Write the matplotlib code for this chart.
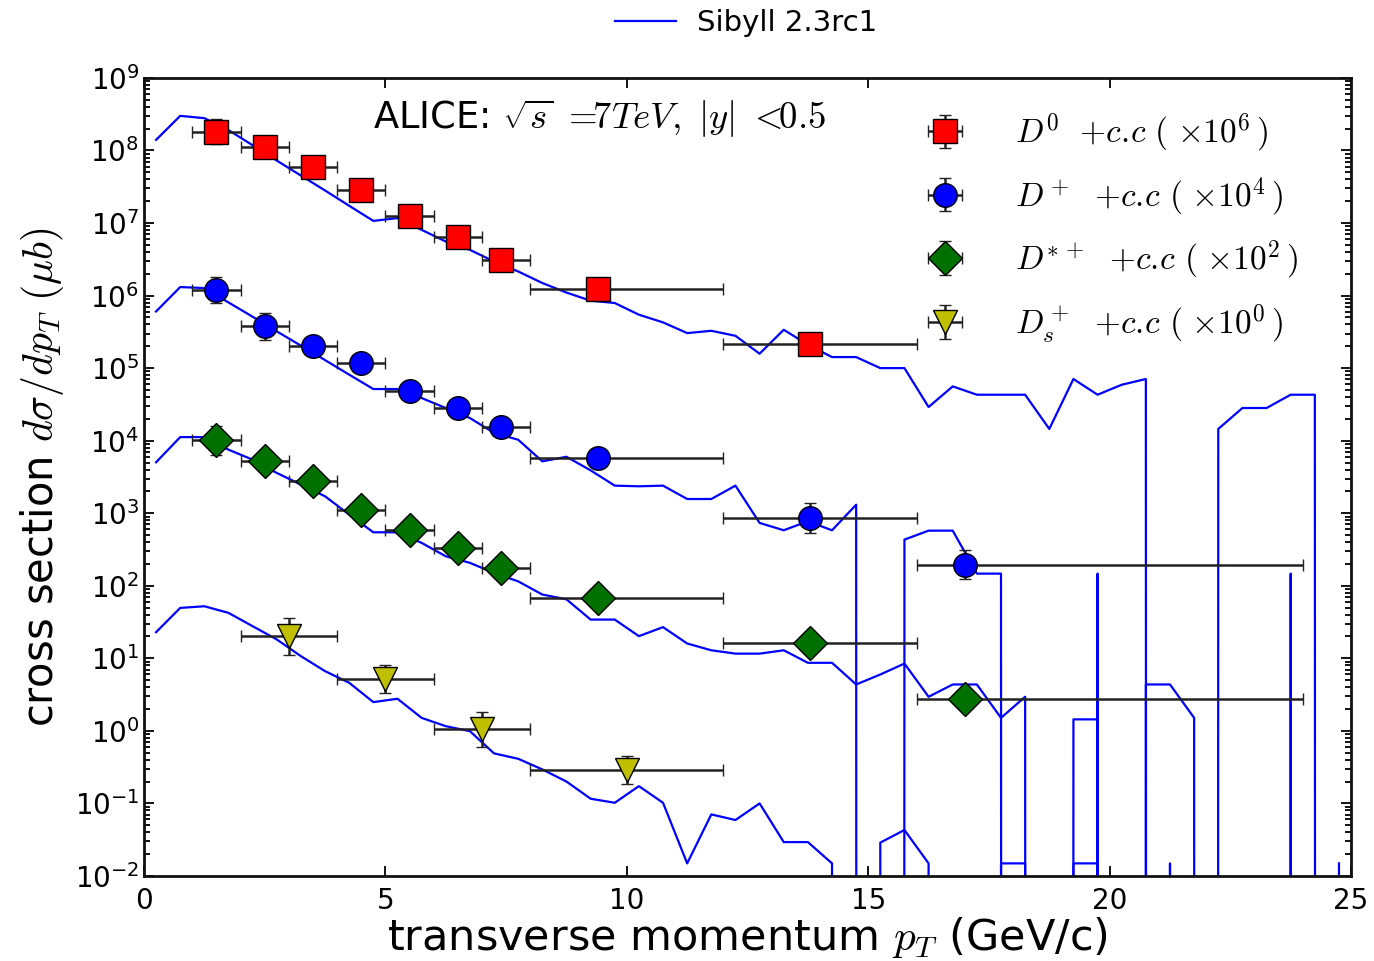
import numpy as np
import matplotlib
matplotlib.use("Agg")
import matplotlib.pyplot as plt
from matplotlib.lines import Line2D
from matplotlib.ticker import LogLocator

# Sibyll 2.3rc1 prediction in 0.5 GeV/c bins (unscaled, mub)
pt_model = np.arange(0.25, 25.0, 0.5)

sib_d0 = [140, 300, 279, 191, 118, 72.6, 45.1, 28.1, 17.3, 10.7,
          11.7, 8.05, 5.56, 4.27, 2.95, 2.15, 1.49, 1.10, 0.85, 0.79,
          0.545, 0.427, 0.304, 0.327, 0.279, 0.158, 0.338, 0.21, 0.142, 0.142,
          0.1, 0.1, 0.0291, 0.056, 0.043, 0.043, 0.043, 0.0145, 0.0708, 0.043,
          0.059, 0.0708, 0, 0, 0.0145, 0.0282, 0.0282, 0.043, 0.043, 0]
sib_dplus = [60.4, 131, 127, 80.4, 51.1, 32.1, 20.4, 12.9, 8.13, 5.15,
             5.15, 3.87, 2.82, 2.05, 1.28, 1.03, 0.519, 0.6, 0.39, 0.24,
             0.235, 0.24, 0.157, 0.157, 0.24, 0.0735, 0.0582, 0.0774, 0.0582, 0.131,
             0, 0.0433, 0.0575, 0.0575, 0.0147, 0.0147, 0, 0, 0, 0.0147,
             0, 0, 0, 0, 0, 0, 0, 0.0147, 0, 0]
sib_dstar = [50.4, 112, 112, 75.2, 54.7, 35.9, 24.8, 17.1, 9.57, 5.46,
             5.46, 3.9, 2.55, 2.07, 1.5, 1.15, 0.757, 0.65, 0.342, 0.342,
             0.202, 0.269, 0.16, 0.129, 0.116, 0.116, 0.129, 0.0867, 0.0867, 0.0436,
             0.0598, 0.0847, 0.0295, 0.0436, 0.0436, 0.0151, 0.0295, 0, 0.0144, 0.0144,
             0, 0.0436, 0.0436, 0.0151, 0, 0, 0, 0, 0, 0]
sib_ds = [22.9, 49.5, 52.2, 42.3, 27.7, 18.2, 10.7, 6.65, 4.6, 2.49,
          2.77, 1.51, 1.16, 0.99, 0.489, 0.412, 0.294, 0.2, 0.116, 0.102,
          0.173, 0.102, 0.0149, 0.0705, 0.059, 0.1, 0.0293, 0.0293, 0.0149, 0,
          0.0288, 0.043, 0.0149, 0, 0, 0.0149, 0.0149, 0, 0.0149, 0.0149,
          0, 0, 0.0149, 0, 0, 0, 0, 0, 0, 0.0149]

# ALICE data (unscaled)
bin_lo = [1, 2, 3, 4, 5, 6, 7, 8, 12, 16]
bin_hi = [2, 3, 4, 5, 6, 7, 8, 12, 16, 24]
bin_pt = [1.5, 2.5, 3.5, 4.5, 5.5, 6.5, 7.4, 9.4, 13.8, 17.0]

d0_val = [182, 113, 58.9, 28.6, 12.7, 6.4, 3.11, 1.23, 0.217]
d0_err = [0.5, 0.35, 0.3, 0.3, 0.3, 0.3, 0.3, 0.3, 0.3]
dplus_val = [120, 37.5, 20.3, 11.7, 4.78, 2.82, 1.55, 0.578, 0.0861, 0.0196]
dplus_err = [0.5, 0.55, 0.3, 0.3, 0.3, 0.3, 0.3, 0.3, 0.6, 0.6]
dstar_val = [101, 51.9, 28.1, 11.2, 5.81, 3.33, 1.76, 0.681, 0.163, 0.0271]
dstar_err = [0.6, 0.35, 0.3, 0.3, 0.3, 0.3, 0.3, 0.3, 0.35, 0.35]

ds_lo = [2, 4, 6, 8]
ds_hi = [4, 6, 8, 12]
ds_pt = [3, 5, 7, 10]
ds_val = [20.2, 5.22, 1.045, 0.288]
ds_err = [0.8, 0.55, 0.75, 0.55]

scales = [1e6, 1e4, 1e2, 1e0]
labels = [r'$D^0\ \ {+}c.\!c\ (\ {\times}10^6\,)$',
          r'$D^+\ \ {+}c.\!c\ (\ {\times}10^4\,)$',
          r'$D^{*\,+}\ \ {+}c.\!c\ (\ {\times}10^2\,)$',
          r'$D_s^+\ \ {+}c.\!c\ (\ {\times}10^0\,)$']

fig = plt.figure(figsize=(13.74, 9.61), dpi=100)
ax = fig.add_axes([0.1048, 0.0885, 0.8785, 0.8304])
ax.set_yscale('log')

for sib, sc in zip([sib_d0, sib_dplus, sib_dstar, sib_ds], scales):
    ax.plot(pt_model, np.array(sib) * sc, color='#0000ff', lw=1.6, zorder=2)


def draw_points(pt, lo, hi, val, rel, sc, marker, color, label):
    pt = np.array(pt)
    y = np.array(val) * sc
    rel = np.array(rel)
    xerr = [pt - np.array(lo), np.array(hi) - pt]
    yerr = [y - y / (1 + rel), y * rel]
    return ax.errorbar(pt, y, xerr=xerr, yerr=yerr, fmt=marker, color=color,
                       mfc=color, mec='black', mew=1.0, ms=17, ecolor='#222222',
                       elinewidth=1.8, capsize=4, capthick=1.5, label=label, zorder=3)


n0 = len(d0_val)
h0 = draw_points(bin_pt[:n0], bin_lo[:n0], bin_hi[:n0], d0_val, d0_err, scales[0], 's', '#ff0000', labels[0])
h1 = draw_points(bin_pt, bin_lo, bin_hi, dplus_val, dplus_err, scales[1], 'o', '#0000ff', labels[1])
h2 = draw_points(bin_pt, bin_lo, bin_hi, dstar_val, dstar_err, scales[2], 'D', '#007000', labels[2])
h3 = draw_points(ds_pt, ds_lo, ds_hi, ds_val, ds_err, scales[3], 'v', '#bfbf00', labels[3])

ax.set_xlim(0, 25)
ax.set_ylim(1e-2, 1e9)
ax.set_xticks([0, 5, 10, 15, 20, 25])
ax.yaxis.set_major_locator(LogLocator(base=10, numticks=30))
ax.yaxis.set_minor_locator(LogLocator(base=10, subs=np.arange(2, 10), numticks=30))
ax.tick_params(which='both', direction='in', top=True, right=True, labelsize=20, width=1.3)
ax.tick_params(which='major', length=7)
ax.tick_params(which='minor', length=4)
ax.tick_params(axis='x', pad=8)
for s in ax.spines.values():
    s.set_linewidth(2)
    s.set_color('#111111')

xl = ax.set_xlabel(r'transverse momentum $p_T$ (GeV/c)', fontsize=31, labelpad=0)
xl.set_math_fontfamily('cm')
yl = ax.set_ylabel(r'cross section $d\sigma/dp_T\ (\mu b)$', fontsize=30, labelpad=6)
yl.set_math_fontfamily('cm')

t = ax.text(0.19, 0.949, r'ALICE: $\sqrt{s}\ =\!\!7TeV,\ |y|\ <\!\!0.5$', transform=ax.transAxes,
            fontsize=26.5, va='center', ha='left')
t.set_math_fontfamily('cm')

leg = ax.legend(handles=[h0, h1, h2, h3], loc='upper left', bbox_to_anchor=(0.618, 0.995),
                frameon=False, fontsize=24, handlelength=1.5, handletextpad=1.35,
                labelspacing=0.62, numpoints=1)
for txt in leg.get_texts():
    txt.set_math_fontfamily('cm')

sib_handle = Line2D([], [], color='#0000ff', lw=1.6)
fig.legend(handles=[sib_handle], labels=['Sibyll 2.3rc1'], loc='upper center',
           bbox_to_anchor=(0.543, 1.006), frameon=False, fontsize=21,
           handlelength=2.1, handletextpad=0.7, borderaxespad=0.1)

fig.savefig('out.png', dpi=100)
